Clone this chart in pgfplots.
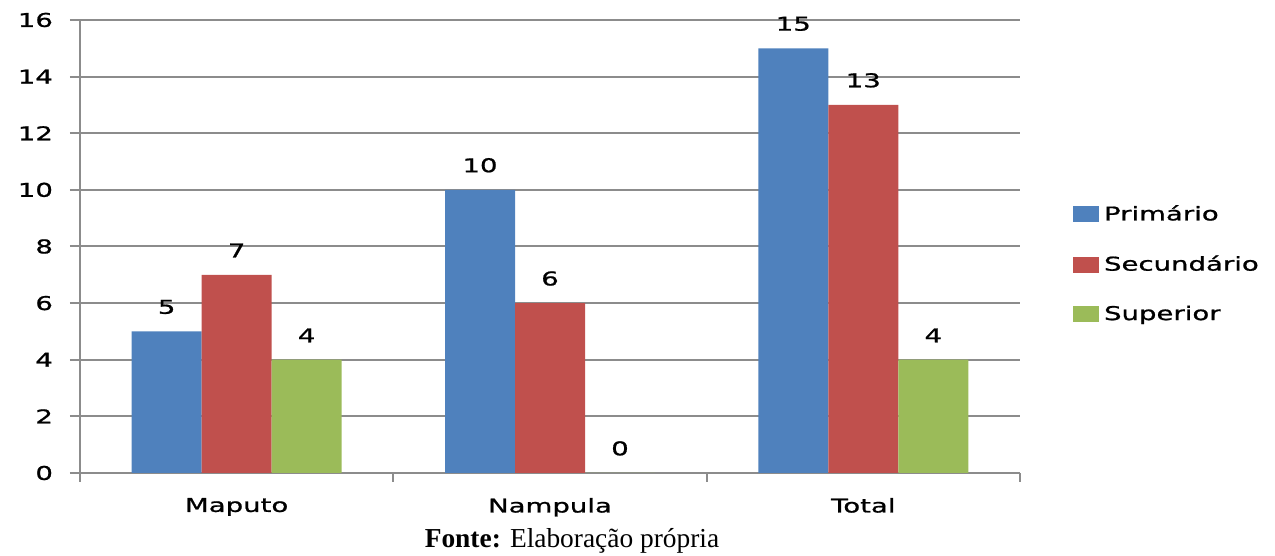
\documentclass[border=0pt]{standalone}
\usepackage{fontspec}
\setmainfont{Liberation Serif}
\newfontfamily\chartfont[FakeStretch=1.45, FakeBold=1]{DejaVu Sans}
\usepackage{pgfplots}
\pgfplotsset{compat=1.18}

\definecolor{cblue}{HTML}{4F81BD}
\definecolor{cred}{HTML}{C0504D}
\definecolor{cgreen}{HTML}{9BBB59}
\definecolor{cgrid}{HTML}{8C8C8C}

\newcommand{\cf}{\chartfont\fontsize{9.5}{11}\selectfont}

\begin{document}
\begin{tikzpicture}
\path[use as bounding box] (0,0) rectangle (637.5pt,278pt);
\begin{axis}[
  at={(40pt,41.5pt)}, anchor=south west,
  scale only axis, width=470pt, height=226.5pt,
  ybar=0pt, bar width=35pt,
  xmin=-0.5, xmax=2.5, ymin=0, ymax=16,
  xtick={0,1,2}, xticklabels={Maputo,Nampula,Total},
  minor xtick={-0.5,0.5,1.5,2.5},
  ytick={0,2,...,16},
  major x tick style={draw=none},
  tick align=outside,
  major tick length=5pt, minor tick length=4.5pt,
  tick style={cgrid, line width=1pt},
  axis x line*=bottom, axis y line*=left,
  axis line style={cgrid, line width=1pt, -},
  ymajorgrids, grid style={cgrid, line width=1pt},
  /pgf/number format/assume math mode=true,
  ticklabel style={font=\cf},
  xticklabel style={yshift=-4pt},
  yticklabel style={xshift=-5pt},
  nodes near coords,
  every node near coord/.append style={font=\cf, inner sep=0pt, anchor=south, yshift=8.5pt},
  legend style={at={(1.056,0.461)}, anchor=west, draw=none, font=\cf,
    row sep=12pt, inner sep=0pt, cells={anchor=west},
    nodes={inner xsep=2.5pt}},
  legend image code/.code={\fill[#1] (0pt,-4pt) rectangle (13pt,4pt);},
]
\addplot[fill=cblue, draw=none] coordinates {(0,5) (1,10) (2,15)};
\addplot[fill=cred, draw=none] coordinates {(0,7) (1,6) (2,13)};
\addplot[fill=cgreen, draw=none] coordinates {(0,4) (1,0) (2,4)};
\legend{Primário, Secundário, Superior}
\end{axis}
\node[font=\fontsize{13.7}{16}\selectfont] at (286pt,7.5pt) {\textbf{Fonte:} Elaboração própria};
\end{tikzpicture}
\end{document}
